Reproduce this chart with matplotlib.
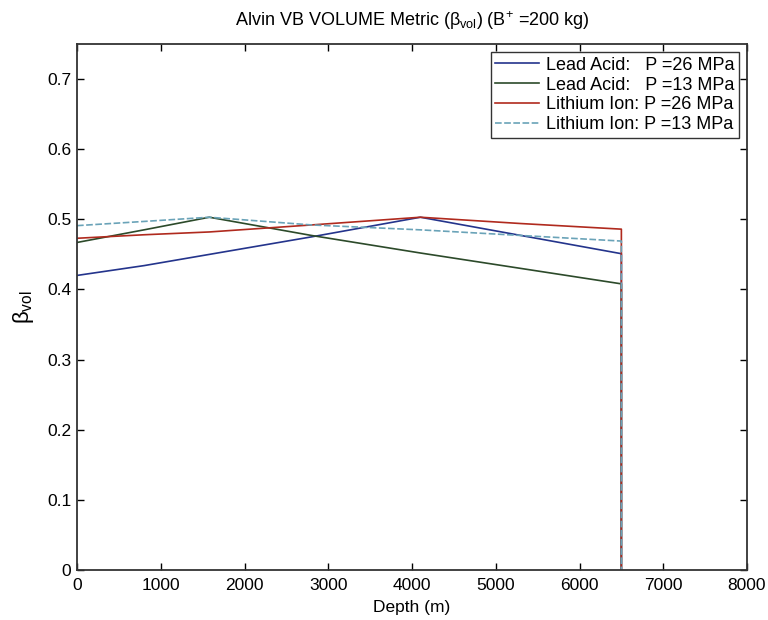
import matplotlib
matplotlib.use("Agg")
import matplotlib.pyplot as plt

plt.rcParams['font.family'] = ['Liberation Sans', 'DejaVu Sans']
plt.rcParams['mathtext.fontset'] = 'custom'
plt.rcParams['mathtext.rm'] = 'Liberation Sans'
plt.rcParams['mathtext.it'] = 'Liberation Sans'
plt.rcParams['mathtext.bf'] = 'Liberation Sans:bold'

depth = [0, 800, 1580, 2800, 4100, 5300, 6500, 6500]
lead_26 = [0.420, 0.434, 0.450, 0.475, 0.503, 0.477, 0.451, 0.0]
lead_13 = [0.467, 0.485, 0.503, 0.477, 0.452, 0.430, 0.408, 0.0]
li_26 = [0.473, 0.478, 0.482, 0.492, 0.503, 0.494, 0.486, 0.0]
li_13 = [0.491, 0.497, 0.503, 0.492, 0.485, 0.477, 0.469, 0.0]

labels = ["Lead Acid:   P =26 MPa", "Lead Acid:   P =13 MPa",
          "Lithium Ion: P =26 MPa", "Lithium Ion: P =13 MPa"]
colors = ["#24348c", "#2c4a2a", "#b02a1e", "#6aa3b8"]
styles = ["-", "-", "-", (0, (4, 1.5))]

fig = plt.figure(figsize=(7.68, 6.2), dpi=100)
ax = fig.add_axes([77 / 768, 1 - 570 / 620, 670 / 768, 526 / 620])

for ys, lab, c, ls in zip([lead_26, lead_13, li_26, li_13], labels, colors, styles):
    ax.plot(depth, ys, color=c, linestyle=ls, linewidth=1.2, label=lab)

ax.set_xlim(0, 8000)
ax.set_ylim(0, 0.75)
ax.set_xticks(range(0, 8001, 1000))
ax.set_yticks([0, 0.1, 0.2, 0.3, 0.4, 0.5, 0.6, 0.7])
ax.set_yticklabels(["0", "0.1", "0.2", "0.3", "0.4", "0.5", "0.6", "0.7"])
ax.tick_params(direction='in', top=True, right=True, labelsize=12.5, length=5, width=1)
ax.tick_params(axis='x', pad=6)
ax.tick_params(axis='y', pad=4)
for s in ax.spines.values():
    s.set_linewidth(1.3)
    s.set_color('#333333')

ax.set_title(r"Alvin VB VOLUME Metric ($\beta_{\mathrm{vol}}$) (B$^{+}$ =200 kg)", fontsize=13, pad=13)
ax.set_xlabel("Depth (m)", fontsize=12.5, labelpad=5)
ax.set_ylabel(r"$\beta_{\mathrm{vol}}$", fontsize=16, labelpad=8)

leg = ax.legend(loc='upper right', fontsize=13, frameon=True, fancybox=False,
                edgecolor='black', handlelength=2.4, borderaxespad=0.45,
                labelspacing=0.16, handletextpad=0.4, borderpad=0.25)
leg.get_frame().set_linewidth(1.0)

fig.savefig("out.png", dpi=100)
